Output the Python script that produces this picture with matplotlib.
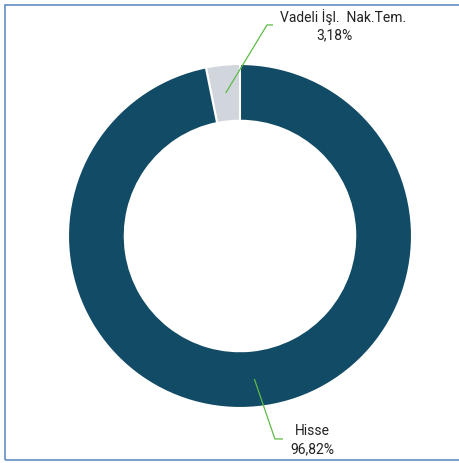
import numpy as np
import matplotlib
matplotlib.use("Agg")
import matplotlib.pyplot as plt
from matplotlib.patches import Rectangle

categories = ["Vadeli \u0130\u015fl.  Nak.Tem.", "Hisse"]
values = [3.18, 96.82]
value_labels = ["3,18%", "96,82%"]
colors = ["#D1D6DD", "#114B65"]

plt.rcParams['font.family'] = ['Roboto', 'DejaVu Sans']

W, H = 460, 464
fig = plt.figure(figsize=(W / 100, H / 100), dpi=100)
cx, cy, R = 240, 237, 172
ax = fig.add_axes([(cx - R) / W, (H - cy - R) / H, 2 * R / W, 2 * R / H])
wedges, _ = ax.pie(values, colors=colors, startangle=90, counterclock=True,
                   radius=1.0, wedgeprops=dict(width=0.33, edgecolor="white", linewidth=1.5))
ax.set_xlim(-1, 1)
ax.set_ylim(-1, 1)
ax.set_aspect("equal")
ax.axis("off")

# label layout: (elbow, end of horizontal, text x, text y, category x-shift pt) in axes data units
layout = [
    ((0.157, 1.227), (0.192, 1.227), 0.547, 1.227, 6.5),
    ((0.203, -1.18), (0.25, -1.18), 0.42, -1.18, 0.0),
]
line_color = "#5DBB46"
for w, cat, lab, (elbow, end, tx, ty, dx) in zip(wedges, categories, value_labels, layout):
    mid = np.deg2rad((w.theta1 + w.theta2) / 2)
    r0 = 0.835
    p0 = (r0 * np.cos(mid), r0 * np.sin(mid))
    ax.plot([p0[0], elbow[0], end[0]], [p0[1], elbow[1], end[1]],
            color=line_color, lw=0.9, clip_on=False, solid_capstyle="butt")
    ax.annotate(cat, (tx, ty), xytext=(dx, 6.5), textcoords="offset points",
                ha="center", va="center", fontsize=10, color="#222222",
                annotation_clip=False)
    ax.annotate(lab, (tx, ty), xytext=(0, -6.5), textcoords="offset points",
                ha="center", va="center", fontsize=10, color="#222222",
                annotation_clip=False)

fig.patches.append(Rectangle((4.5 / W, 3.5 / H), 1.2, (H - 5.5) / H - 3.5 / H,
                             transform=fig.transFigure, fill=False,
                             edgecolor="#6F95C6", linewidth=1.3, clip_on=False))

fig.savefig("out.png", dpi=100)
